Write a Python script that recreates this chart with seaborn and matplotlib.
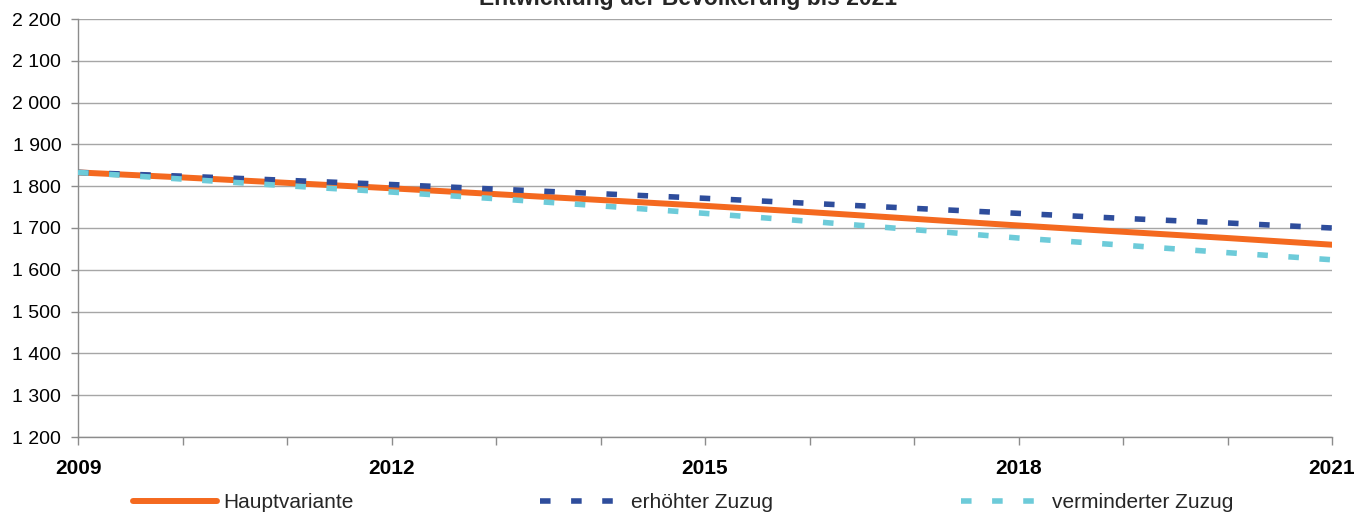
import matplotlib
matplotlib.use("Agg")
import matplotlib.pyplot as plt
import seaborn as sns
import pandas as pd
from matplotlib.ticker import FixedLocator, FuncFormatter

years = list(range(2009, 2022))
haupt = [1833, 1821, 1808, 1795, 1781, 1767, 1753, 1738, 1722, 1706, 1691, 1676, 1660]
erhoeht = [1833, 1824, 1814, 1804, 1793, 1782, 1771, 1759, 1747, 1735, 1723, 1712, 1700]
vermindert = [1833, 1817, 1801, 1786, 1770, 1753, 1735, 1716, 1696, 1676, 1659, 1641, 1624]
series_names = ["Hauptvariante", "erhöhter Zuzug", "verminderter Zuzug"]
title = "Entwicklung der Bevölkerung bis 2021"
label_years = [2009, 2012, 2015, 2018, 2021]

sns.set_theme(style="white")
plt.rcParams["font.family"] = ["Liberation Sans", "DejaVu Sans"]

W, H = 1370, 520
fig = plt.figure(figsize=(W / 100, H / 100), dpi=100)
L, R, T, B = 78, 1332, 19, 437
ax = fig.add_axes([L / W, 1 - B / H, (R - L) / W, (B - T) / H])

colors = ["#F4691F", "#2E4D9C", "#6DCBD9"]
data = [haupt, erhoeht, vermindert]
styles = ["-", (0, (1.9, 3.7)), (0, (1.9, 3.7))]
widths = [4.3, 4.0, 4.0]
for i, (name, vals) in enumerate(zip(series_names, data)):
    df = pd.DataFrame({"Jahr": years, "Wert": vals})
    sns.lineplot(data=df, x="Jahr", y="Wert", ax=ax, color=colors[i],
                 linewidth=widths[i], linestyle=styles[i], label=name,
                 zorder=3 + i, legend=False)

ax.set_xlim(2009, 2021)
ax.set_ylim(1200, 2200)
ax.set_yticks(range(1200, 2201, 100))
ax.yaxis.set_major_formatter(FuncFormatter(lambda v, p: f"{int(v):,}".replace(",", " ")))
ax.xaxis.set_major_locator(FixedLocator(years))
ax.xaxis.set_major_formatter(FuncFormatter(lambda v, p: str(int(round(v))) if int(round(v)) in label_years else ""))
ax.set_xlabel("")
ax.set_ylabel("")
ax.grid(axis="y", color="#A6A6A6", linewidth=1.0, zorder=0)
ax.grid(axis="x", visible=False)
for s in ["top", "right"]:
    ax.spines[s].set_visible(False)
for s in ["left", "bottom"]:
    ax.spines[s].set_color("#8C8C8C")
    ax.spines[s].set_linewidth(1.0)
ax.tick_params(axis="y", which="major", length=5, color="#8C8C8C", width=1,
               labelsize=14, pad=7, labelcolor="black", left=True)
ax.tick_params(axis="x", which="major", length=6, color="#8C8C8C", width=1,
               labelsize=15, pad=10, labelcolor="black", bottom=True, direction="out")
for lbl in ax.get_xticklabels():
    lbl.set_fontweight("bold")

fig.text(688 / W, 1 - 5 / H, title, ha="center", va="baseline",
         fontsize=16.5, fontweight="bold")

lines = ax.get_lines()[:3]
legend_x = [133, 540, 961]
for line, name, x0 in zip(lines, series_names, legend_x):
    leg = fig.legend([line], [name], loc="center left",
                     bbox_to_anchor=(x0 / W, 1 - 503 / H), frameon=False,
                     fontsize=15, handlelength=4.05, handletextpad=0.3,
                     borderpad=0, borderaxespad=0)

fig.savefig("out.png", dpi=100)
